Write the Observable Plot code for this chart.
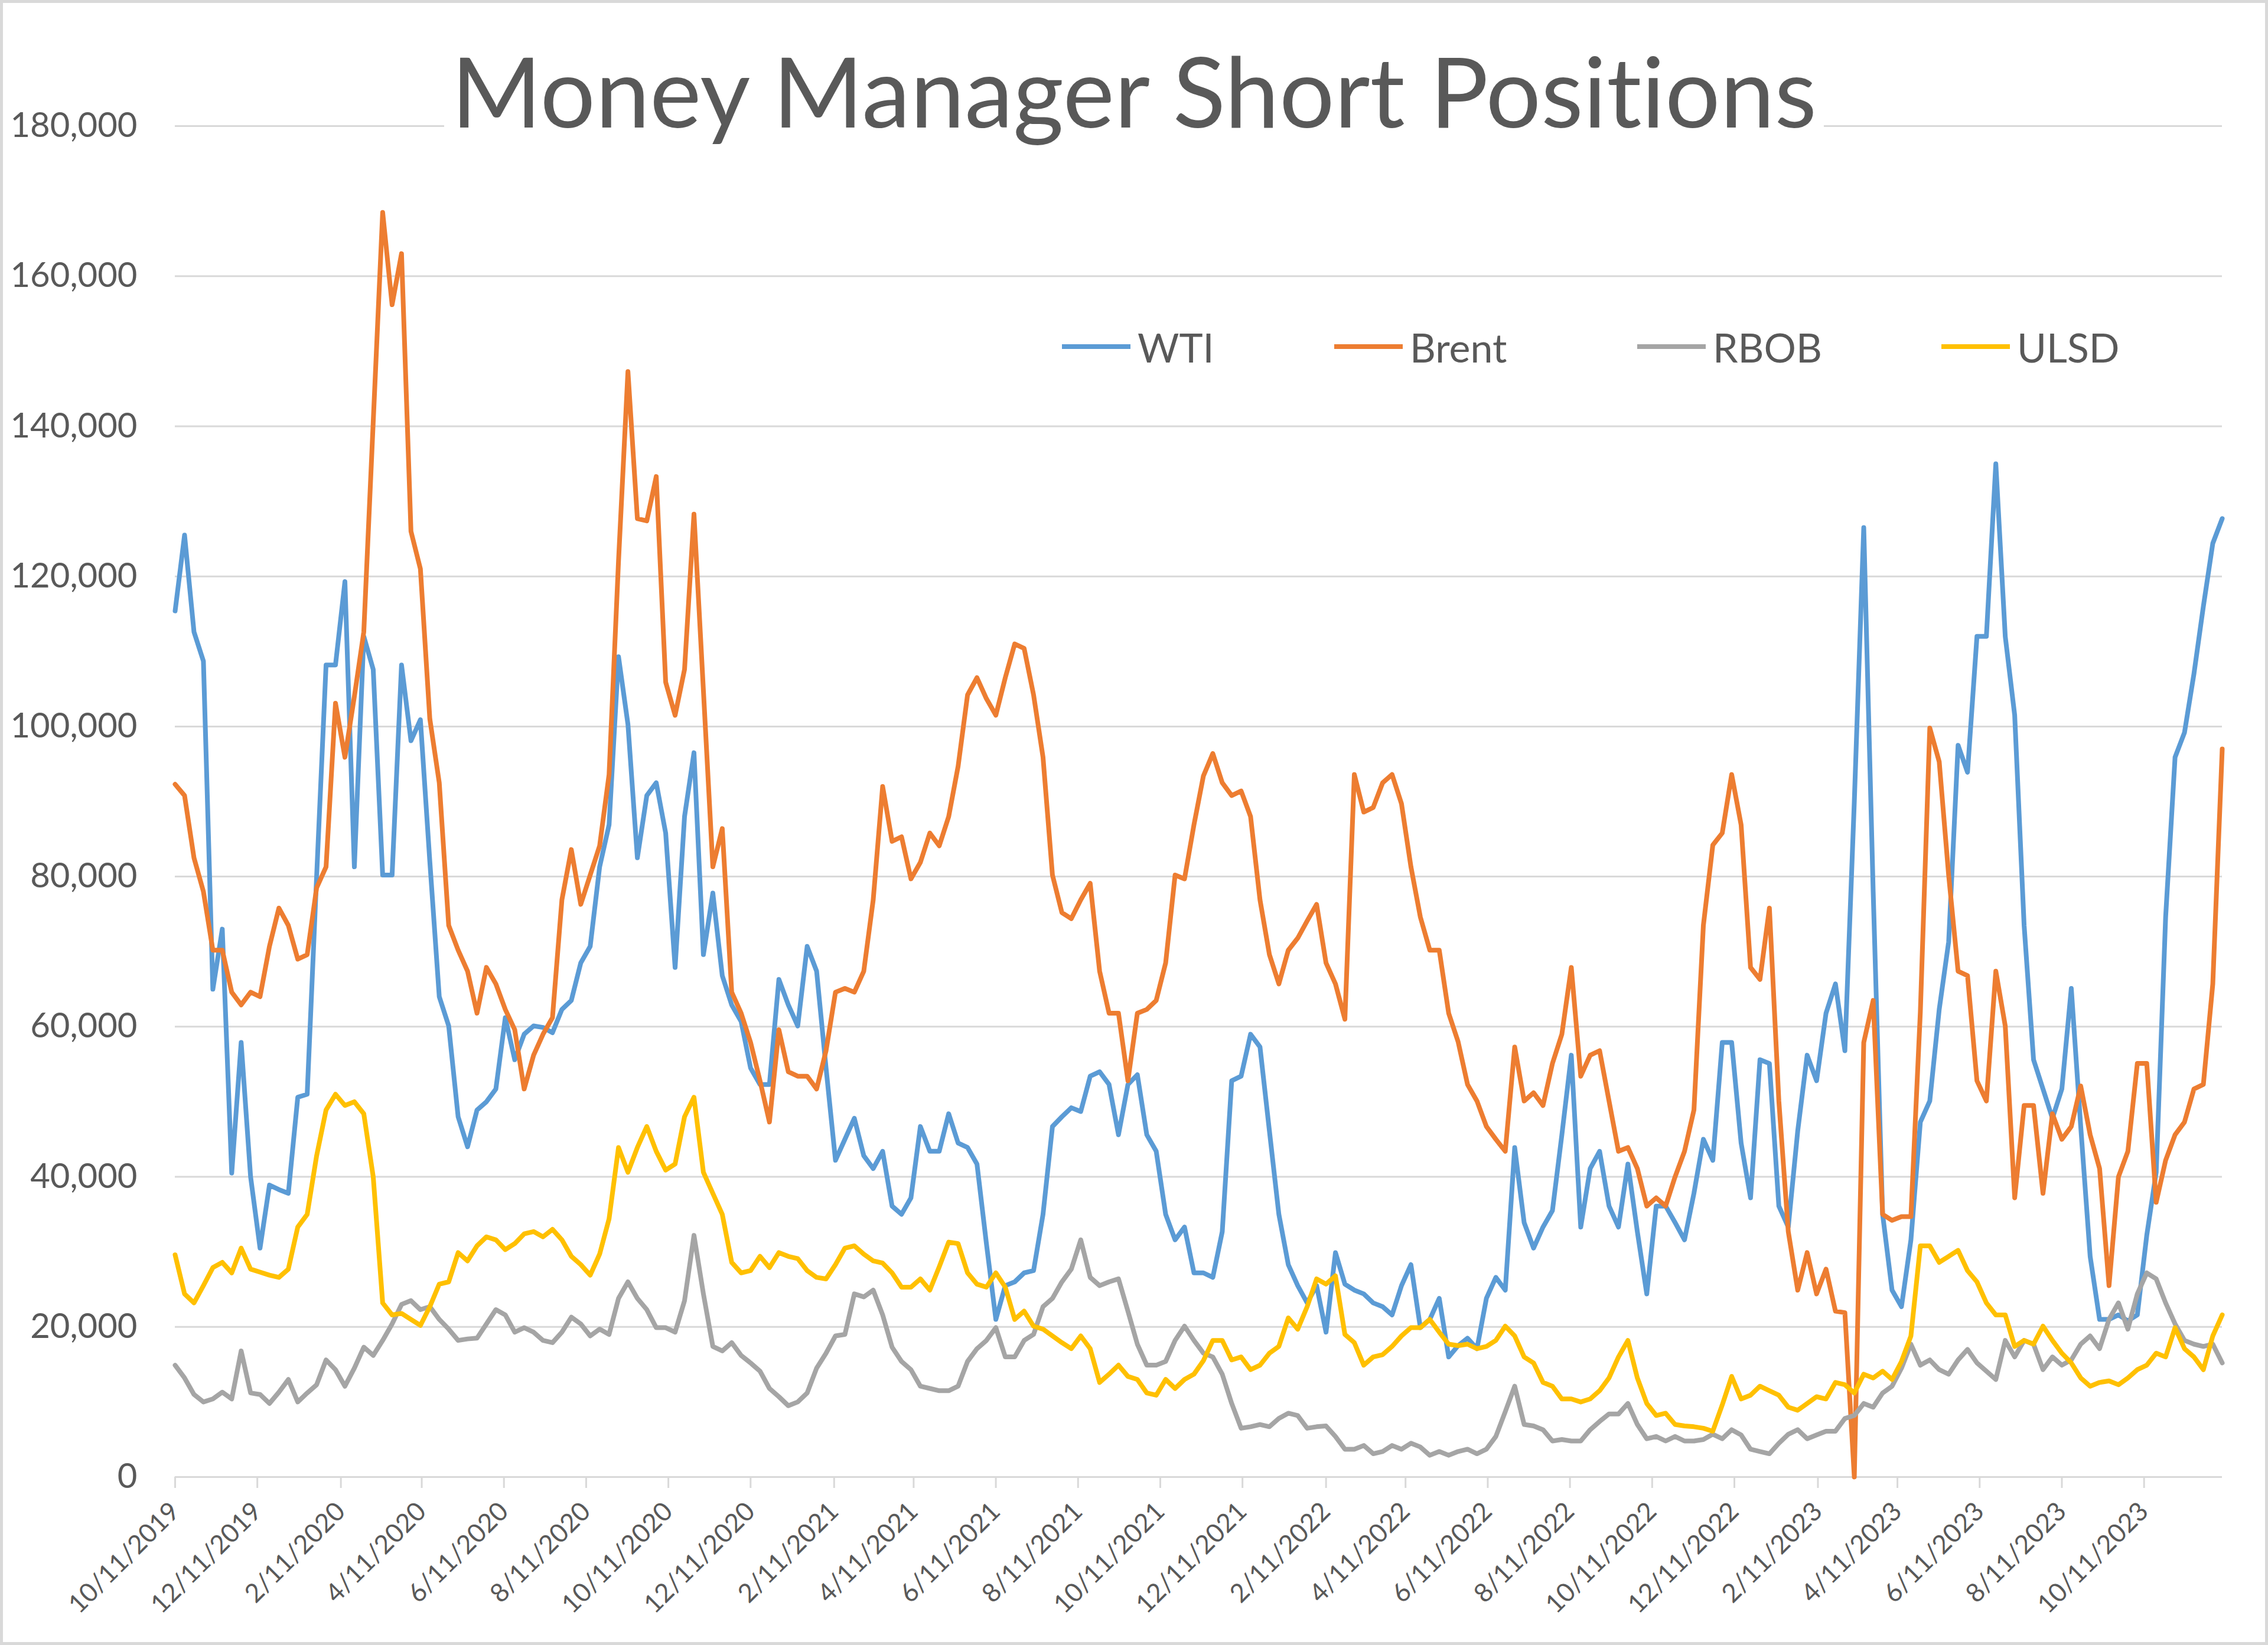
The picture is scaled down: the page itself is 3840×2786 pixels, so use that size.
<!DOCTYPE html>
<html>
<head>
<meta charset="utf-8">
<script src="https://cdn.jsdelivr.net/npm/d3@7"></script>
<script src="https://cdn.jsdelivr.net/npm/@observablehq/plot@0.6"></script>
<style>
html, body { margin: 0; padding: 0; background: #fff; }
#chart { position: relative; width: 3840px; height: 2786px; overflow: hidden; font-family: Lato, sans-serif; background: #fff; }
#frame { position: absolute; left: 0; top: 0; width: 3840px; height: 2786px; box-sizing: border-box; border: 5px solid #D9D9D9; pointer-events: none; }
#title { position: absolute; left: 50%; top: 70px; transform: translateX(-50%); white-space: nowrap; background: #fff; color: #595959; font-size: 165px; line-height: 1; padding: 0 12px; font-variant-ligatures: none; font-feature-settings: "liga" 0, "clig" 0; }
.item { position: absolute; top: 547px; height: 80px; display: flex; align-items: center; }
.swatch { width: 116px; height: 8px; margin-right: 12px; }
.item span { font-size: 68px; color: #595959; }
svg text { font-variant-ligatures: none; }
</style>
</head>
<body>
<div id="chart"></div>
<script>
// ---- data (thousands of contracts), weekly from 10/11/2019 ----
const seriesNames = ["WTI", "Brent", "RBOB", "ULSD"];
const seriesColors = ["#5B9BD5", "#ED7D31", "#A5A5A5", "#FFC000"];
const firstDate = "2019-10-11";

const wti = [
115.4,125.5,112.6,108.7,65,73,40.5,57.9,40,30.5,
38.9,38.3,37.8,50.6,51,80,108.2,108.2,119.3,81.3,
112,107.6,80.2,80.2,108.2,98.1,100.9,82,64,60.1,
48,44,48.9,50,51.7,61.2,55.6,59,60.1,59.9,
59.2,62.3,63.5,68.5,70.7,81.3,86.9,109.3,100.3,82.5,
90.8,92.5,85.8,67.9,88,96.5,69.6,77.8,66.8,62.9,
60.7,54.5,52.3,52.3,66.3,62.9,60.1,70.7,67.4,54.5,
42.2,45,47.8,42.8,41.1,43.4,36.1,35,37.2,46.7,
43.4,43.4,48.4,44.5,43.9,41.7,31.1,21,25.5,26,
27.2,27.5,35,46.7,48,49.2,48.7,53.4,54,52.3,
45.6,52.3,53.6,45.6,43.4,35,31.6,33.3,27.2,27.2,
26.6,32.7,52.8,53.4,59,57.3,46.1,35,28.3,25.5,
23.2,25.5,19.3,29.9,25.7,24.9,24.4,23.2,22.7,21.6,
25.5,28.3,19.9,21,23.8,16,17.5,18.5,17.1,23.8,
26.6,24.9,43.9,33.9,30.5,33.3,35.5,45.6,56.2,33.3,
41.1,43.4,36.1,33.3,41.7,32.7,24.4,36.1,36.1,33.9,
31.6,37.8,45,42.2,57.9,57.9,44.5,37.2,55.6,55.1,
36.1,33.3,46.1,56.2,52.8,61.8,65.7,56.8,90,126.5,
78,35,24.9,22.7,31.6,47.3,50.1,62.3,71.3,97.5,
93.9,112,112,135,112,101.5,73.5,55.6,51.7,47.8,
51.7,65.1,46.7,29.4,21,21,21.6,20.8,21.6,32.2,
40.6,74.6,95.9,99.2,107,116,124.4,127.7
];

const brent = [
92.3,90.8,82.5,78,70.2,70.2,64.6,62.9,64.6,64,
70.7,75.8,73.5,69,69.6,78.5,81.3,103.1,95.9,104,
112.6,140.6,168.5,156.2,163,126,121,101,92.5,73.5,
70.2,67.4,61.8,67.9,65.7,62.3,59.6,51.7,56.2,59,
61.2,76.9,83.6,76.3,80.2,84.1,93.6,122,147.3,127.7,
127.4,133.3,105.9,101.5,107.6,128.3,104.8,81.3,86.4,64.6,
61.8,57.9,52.8,47.3,59.6,54,53.4,53.4,51.7,56.8,
64.6,65.1,64.6,67.4,76.9,92,84.7,85.3,79.7,81.9,
85.8,84.1,88,94.7,104.2,106.5,103.7,101.5,106.5,111,
110.4,104.2,95.9,80.2,75.2,74.4,76.9,79.1,67.4,61.8,
61.8,52.8,61.8,62.3,63.5,68.5,80.2,79.7,86.9,93.4,
96.4,92.5,90.8,91.4,88,76.9,69.6,65.7,70.2,71.8,
74.1,76.3,68.5,65.7,61,93.6,88.6,89.2,92.5,93.6,
89.7,81.3,74.6,70.2,70.2,61.8,58,52.3,50.1,46.7,
45,43.4,57.3,50.1,51.2,49.5,55.1,59,67.9,53.4,
56.2,56.8,50.1,43.4,43.9,41.1,36.1,37.2,36.1,40,
43.4,48.9,73.5,84.2,85.8,93.6,86.9,67.9,66.3,75.8,
50.1,32.7,24.9,29.9,24.4,27.7,22.1,21.9,0,57.9,
63.5,35,34.2,34.7,34.7,62,99.8,95.3,80.2,67.4,
66.8,52.8,50.1,67.4,60.1,37.2,49.5,49.5,37.8,48.4,
45,46.7,52.1,45.6,41.1,25.5,40,43.4,55.1,55.1,
36.6,42.2,45.6,47.3,51.7,52.3,65.7,97
];

const rbob = [
14.9,13.2,11,10,10.4,11.3,10.4,16.8,11.2,11,
9.8,11.3,13,10,11.2,12.3,15.6,14.3,12.1,14.5,
17.3,16.2,18.2,20.4,23,23.5,22.3,22.7,21,19.7,
18.2,18.4,18.5,20.4,22.3,21.6,19.3,19.9,19.3,18.2,
17.9,19.3,21.3,20.4,18.8,19.7,19,23.8,26,23.8,
22.3,19.9,19.9,19.3,23.5,32.2,24.4,17.4,16.8,17.9,
16.2,15.2,14.1,11.8,10.7,9.5,10,11.2,14.5,16.5,
18.8,19,24.4,24,24.9,21.6,17.3,15.4,14.3,12.1,
11.8,11.5,11.5,12.1,15.4,17.1,18.2,19.9,16,16,
18.2,19,22.7,23.8,26,27.7,31.6,26.6,25.5,26,
26.4,22.1,17.7,14.9,14.9,15.4,18.2,20.1,18.2,16.5,
16,13.7,9.8,6.5,6.7,7,6.7,7.8,8.5,8.2,
6.5,6.7,6.8,5.4,3.7,3.7,4.2,3.1,3.4,4.2,
3.7,4.5,4,2.9,3.4,2.9,3.4,3.7,3.1,3.7,
5.4,8.7,12.1,7,6.8,6.3,4.8,5,4.8,4.8,
6.3,7.4,8.4,8.4,9.8,7,5.1,5.4,4.8,5.4,
4.8,4.8,5,5.7,5.1,6.3,5.6,3.7,3.4,3.1,
4.5,5.7,6.3,5.1,5.6,6.1,6.1,7.8,8.2,9.8,
9.3,11.2,12.1,14.5,17.7,14.9,15.6,14.3,13.7,15.6,
17,15.2,14.1,13,18.2,16,18.2,17.7,14.3,16,
14.9,15.6,17.7,18.8,17.1,21,23.2,19.7,24.4,27.2,
26.4,23.2,20.4,18.2,17.7,17.4,17.7,15.2
];

const ulsd = [
29.6,24.4,23.2,25.5,27.9,28.6,27.2,30.5,27.7,27.3,
26.9,26.6,27.7,33.3,35,42.8,48.9,51,49.5,50,
48.4,40,23.2,21.6,21.8,21,20.2,22.7,25.7,26,
29.9,28.8,30.8,32,31.6,30.3,31.1,32.4,32.7,32,
33,31.6,29.4,28.3,26.9,29.7,34.4,43.9,40.6,43.9,
46.7,43.4,40.9,41.7,48,50.6,40.6,37.8,35,28.6,
27.2,27.5,29.4,27.9,29.9,29.4,29.1,27.5,26.6,26.4,
28.3,30.5,30.8,29.7,28.8,28.5,27.2,25.3,25.3,26.4,
24.9,28,31.3,31.1,27.2,25.7,25.3,27.2,25.3,21,
22.1,20.1,19.7,18.8,17.9,17.1,18.8,17.1,12.6,13.7,
14.9,13.4,13,11.2,10.9,13,11.8,13,13.7,15.5,
18.2,18.2,15.6,16,14.3,14.9,16.5,17.4,21.2,19.7,
22.7,26.4,25.7,26.8,19,17.9,14.9,16,16.3,17.4,
18.8,19.9,19.9,21,19.3,17.7,17.5,17.7,17.1,17.4,
18.2,20.1,18.8,16,15.2,12.6,12.1,10.4,10.4,10,
10.4,11.5,13.2,16,18.2,13.2,9.8,8.2,8.5,7,
6.8,6.7,6.5,6.1,9.6,13.4,10.4,10.9,12.1,11.5,
10.9,9.3,8.9,9.8,10.7,10.4,12.6,12.3,11.2,13.7,
13.2,14.1,13,15.4,18.8,30.8,30.8,28.6,29.4,30.2,
27.5,26,23.2,21.6,21.6,17.4,18.2,17.7,20.1,18.2,
16.5,15.2,13.2,12.1,12.6,12.8,12.3,13.2,14.3,14.9,
16.5,16,19.9,17.1,16,14.3,18.8,21.6
];

const xTickLabels = [
"10/11/2019","12/11/2019","2/11/2020","4/11/2020","6/11/2020","8/11/2020","10/11/2020","12/11/2020",
"2/11/2021","4/11/2021","6/11/2021","8/11/2021","10/11/2021","12/11/2021",
"2/11/2022","4/11/2022","6/11/2022","8/11/2022","10/11/2022","12/11/2022",
"2/11/2023","4/11/2023","6/11/2023","8/11/2023","10/11/2023"
];
const yTicks = [0, 20000, 40000, 60000, 80000, 100000, 120000, 140000, 160000, 180000];
const titleText = "Money Manager Short Positions";

// ---- build table ----
const parseMDY = d3.utcParse("%m/%d/%Y");
const xTickDates = xTickLabels.map(parseMDY);
const start = d3.utcParse("%Y-%m-%d")(firstDate);
const allSeries = [wti, brent, rbob, ulsd];
const dates = d3.utcDay.range(start, d3.utcDay.offset(start, 7 * wti.length), 7);
const rows = [];
allSeries.forEach((arr, s) => arr.forEach((v, i) => rows.push({date: dates[i], value: v * 1000, series: seriesNames[s]})));

const lineMarks = seriesNames.map((name, s) =>
  Plot.lineY(rows.filter(r => r.series === name), {
    x: "date", y: "value", stroke: seriesColors[s], strokeWidth: 8,
    strokeLinejoin: "round", strokeLinecap: "round"
  })
);

const plot = Plot.plot({
  width: 3840,
  height: 2786,
  marginLeft: 296,
  marginRight: 78,
  marginTop: 213,
  marginBottom: 285,
  style: {fontFamily: "Lato, sans-serif", background: "transparent", overflow: "visible"},
  x: {type: "utc", domain: [dates[0], dates[dates.length - 1]], label: null},
  y: {domain: [0, 180000], label: null},
  marks: [
    Plot.gridY(yTicks, {stroke: "#D9D9D9", strokeOpacity: 1, strokeWidth: 3}),
    Plot.axisX(xTickDates, {
      tickSize: 19, stroke: "#D9D9D9", strokeOpacity: 1, strokeWidth: 3,
      fill: "#595959", fontSize: 44, tickRotate: -45, tickPadding: 32,
      tickFormat: d3.utcFormat("%-m/%-d/%Y"), label: null
    }),
    Plot.axisY(yTicks, {
      tickSize: 0, tickPadding: 64, fill: "#595959", fontSize: 58,
      tickFormat: d3.format(","), label: null
    }),
    ...lineMarks
  ]
});

const chart = document.getElementById("chart");
chart.appendChild(plot);

const title = document.createElement("div");
title.id = "title";
title.textContent = titleText;
chart.appendChild(title);

const legendLeft = [1798, 2259, 2772, 3287];
seriesNames.forEach((name, s) => {
  const item = document.createElement("div");
  item.className = "item";
  item.style.left = legendLeft[s] + "px";
  const sw = document.createElement("div");
  sw.className = "swatch";
  sw.style.background = seriesColors[s];
  const tx = document.createElement("span");
  tx.textContent = name;
  item.appendChild(sw);
  item.appendChild(tx);
  chart.appendChild(item);
});

const frame = document.createElement("div");
frame.id = "frame";
chart.appendChild(frame);
</script>
</body>
</html>
